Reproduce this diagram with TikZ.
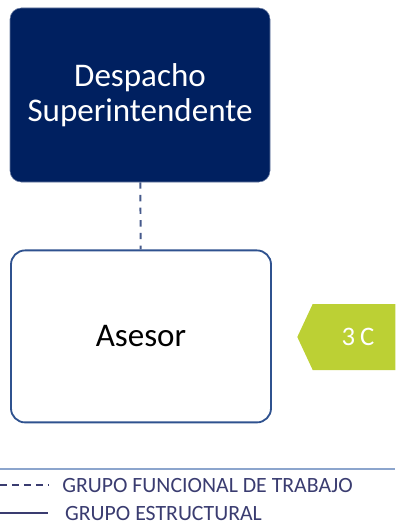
\documentclass[tikz,border=0pt]{standalone}
\usepackage{fontspec}
\setmainfont{Carlito}
\usepackage{tikz}
\usetikzlibrary{arrows.meta,positioning,calc,shapes.symbols}
\definecolor{navy}{RGB}{0,32,96}
\definecolor{boxline}{RGB}{47,82,143}
\definecolor{lime}{RGB}{188,208,52}
\definecolor{rule}{RGB}{140,165,205}
\definecolor{legtext}{RGB}{58,60,112}
\definecolor{linkc}{RGB}{70,90,140}
\tikzset{
  dept/.style={rectangle,rounded corners=8pt,draw=navy!60,fill=navy,text=white,
    minimum width=6.5cm,minimum height=4.35cm,font=\fontsize{23.5}{24.5}\selectfont,align=center},
  staff/.style={rectangle,rounded corners=10pt,draw=boxline,line width=1.3pt,fill=white,
    minimum width=6.5cm,minimum height=4.3cm,font=\fontsize{23.5}{28}\selectfont},
  tag/.style={signal,signal to=west,signal pointer angle=130,fill=lime,text=white,
    minimum width=2.45cm,minimum height=1.65cm,inner sep=0pt,font=\fontsize{19}{22}\selectfont},
  link/.style={line width=1.4pt,linkc,dash pattern=on 4.5pt off 4.5pt},
  func/.style={line width=1.2pt,legtext,dash pattern=on 5pt off 3.5pt},
  struc/.style={line width=1.4pt,legtext},
  leg/.style={font=\fontsize{15.5}{18}\selectfont,text=legtext,anchor=west,inner sep=0pt}
}
\begin{document}
\begin{tikzpicture}
  \useasboundingbox (0,0) rectangle (9.875,-13.225);
  % boxes
  \node[dept] (desp) at (3.5,-2.375) {Despacho\\Superintendente};
  \node[staff] (ases) at (3.525,-8.41) {Asesor};
  \draw[link] (desp)--(ases);
  \node[tag,anchor=west] (grp) at (7.425,-8.425) {\hspace*{0.2cm}3\hspace{0.12cm}C};

  % legend
  \coordinate (r1) at (0,-11.72);
  \coordinate (r2) at (9.875,-11.72);
  \draw[rule,line width=1.2pt] (r1)--(r2);
  \coordinate (f1) at (0,-12.13);
  \coordinate (f2) at (1.2,-12.13);
  \coordinate (s1) at (0,-12.83);
  \coordinate (s2) at (1.2,-12.83);
  \draw[func] (f1)--(f2);
  \draw[struc] (s1)--(s2);
  \node[leg] at (1.55,-12.13) {GRUPO FUNCIONAL DE TRABAJO};
  \node[leg] at (1.62,-12.83) {GRUPO ESTRUCTURAL};
\end{tikzpicture}
\end{document}
